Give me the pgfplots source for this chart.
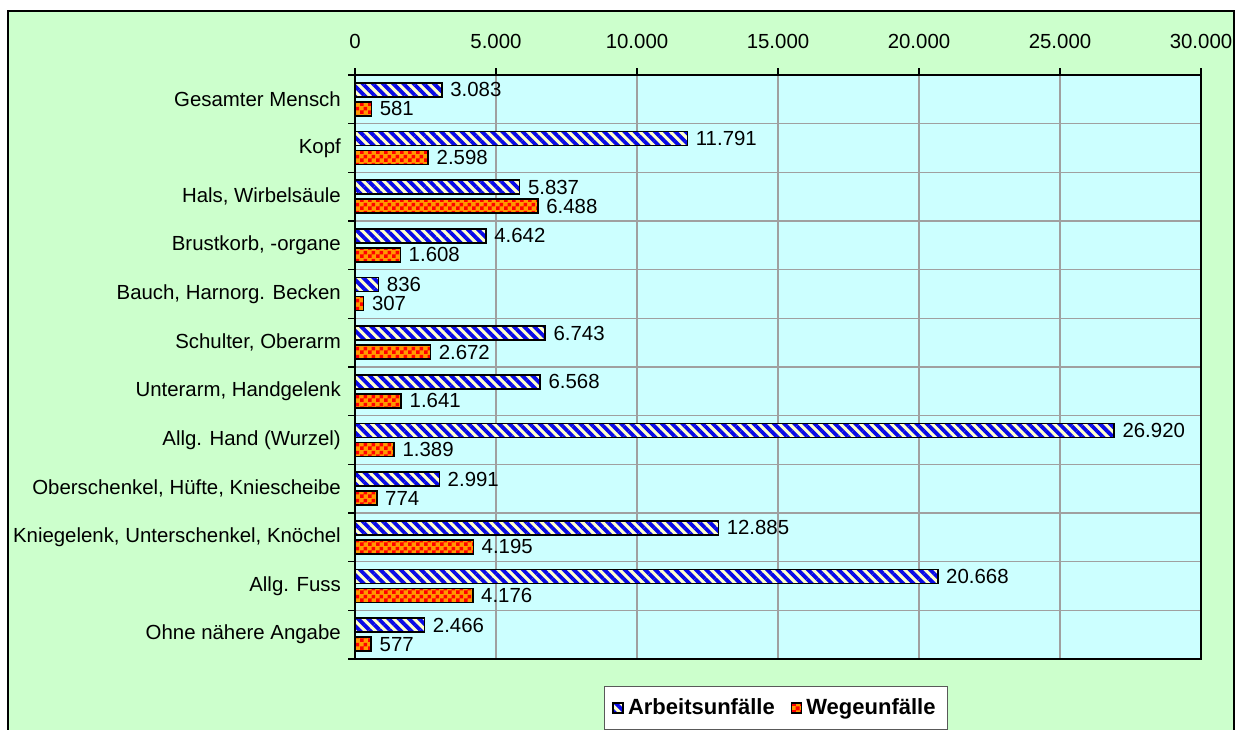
\documentclass[border=0pt]{standalone}
\usepackage{fontspec}
\setmainfont{Liberation Sans}
\usepackage{pgfplots}
\pgfplotsset{compat=1.18}
\usetikzlibrary{patterns,patterns.meta}
\definecolor{outerbg}{RGB}{204,255,204}
\definecolor{plotbg}{RGB}{204,255,255}
\definecolor{stripeblue}{RGB}{10,10,230}
\definecolor{paleyellow}{RGB}{255,255,204}
\definecolor{checkred}{RGB}{255,0,0}
\definecolor{checkorange}{RGB}{255,153,0}
\definecolor{gridgray}{RGB}{160,160,160}

% small checkerboard like the Excel fill
\pgfdeclarepatternformonly{finecheck}{\pgfpointorigin}{\pgfqpoint{4pt}{4pt}}{\pgfqpoint{4pt}{4pt}}{%
  \pgfpathrectangle{\pgfpointorigin}{\pgfqpoint{2.05pt}{2.05pt}}%
  \pgfpathrectangle{\pgfqpoint{2pt}{2pt}}{\pgfqpoint{2.05pt}{2.05pt}}%
  \pgfusepath{fill}}

\begin{document}
\fontsize{10.2}{12}\selectfont
\begin{tikzpicture}
  % outer chart area
  \fill[outerbg] (4pt,-5.5pt) rectangle (617pt,-372pt);
  \draw[black, line width=1pt] (4pt,-5.5pt) rectangle (617pt,-372pt);
  \begin{axis}[
    at={(177.5pt,-329.5pt)}, anchor=south west,
    scale only axis, width=423pt, height=292pt,
    axis background/.style={fill=plotbg},
    xmin=0, xmax=30000, ymin=-0.5, ymax=11.5, y dir=reverse,
    xtick={0,5000,...,30000}, scaled x ticks=false,
    xticklabel pos=right, xtick pos=right, ytick pos=left,
    tick align=outside, major tick length=3.5pt,
    ytick={-0.5,0.5,...,11.5}, y tick label as interval,
    yticklabels={Gesamter Mensch, Kopf, {Hals, Wirbelsäule}, {Brustkorb, -organe},
      {Bauch, Harnorg. Becken}, {Schulter, Oberarm}, {Unterarm, Handgelenk},
      Allg. Hand (Wurzel), {Oberschenkel, Hüfte, Kniescheibe},
      {Kniegelenk, Unterschenkel, Knöchel}, Allg. Fuss, Ohne nähere Angabe},
    xmajorgrids, ymajorgrids, grid style={gridgray, line width=0.8pt},
    axis line style={line width=1pt},
    tick style={black, line width=0.8pt},
    /pgf/number format/1000 sep={.},
    /pgf/number format/assume math mode=true,
    xticklabel style={yshift=6pt},
    point meta=x,
    nodes near coords={\pgfmathprintnumber[fixed,precision=0]{\pgfplotspointmeta}},
    every node near coord/.append style={inner sep=1pt, xshift=2.8pt, black},
    legend style={at={(0.4976,-0.0839)}, anchor=center, legend columns=2,
      draw=gray!70!black, fill=white, font=\fontsize{11}{13}\selectfont\bfseries,
      inner xsep=4pt, inner ysep=4pt,
      /tikz/every even column/.append style={column sep=6pt}},
    legend image code/.code={\draw[#1] (0pt,-2.5pt) rectangle (5pt,2.5pt);},
  ]
  % Arbeitsunfaelle: upper bar of each category
  \addplot[xbar, bar width=7pt, bar shift=0pt, draw=black, line width=0.8pt,
    preaction={fill=paleyellow},
    pattern={Lines[angle=-45,distance=3.6pt,line width=1.9pt]}, pattern color=stripeblue]
    coordinates {(3083,-0.195) (11791,0.805) (5837,1.805) (4642,2.805) (836,3.805) (6743,4.805)
      (6568,5.805) (26920,6.805) (2991,7.805) (12885,8.805) (20668,9.805) (2466,10.805)};
  \addlegendentry{Arbeitsunfälle}
  % Wegeunfaelle: lower bar
  \addplot[xbar, bar width=7pt, bar shift=0pt, draw=black, line width=0.8pt,
    preaction={fill=checkorange},
    pattern=finecheck, pattern color=checkred]
    coordinates {(581,0.195) (2598,1.195) (6488,2.195) (1608,3.195) (307,4.195) (2672,5.195)
      (1641,6.195) (1389,7.195) (774,8.195) (4195,9.195) (4176,10.195) (577,11.195)};
  \addlegendentry{Wegeunfälle}
  \end{axis}
  \pgfresetboundingbox
  \path[use as bounding box] (0pt,0pt) rectangle (622.5pt,-364.5pt);
\end{tikzpicture}
\end{document}
